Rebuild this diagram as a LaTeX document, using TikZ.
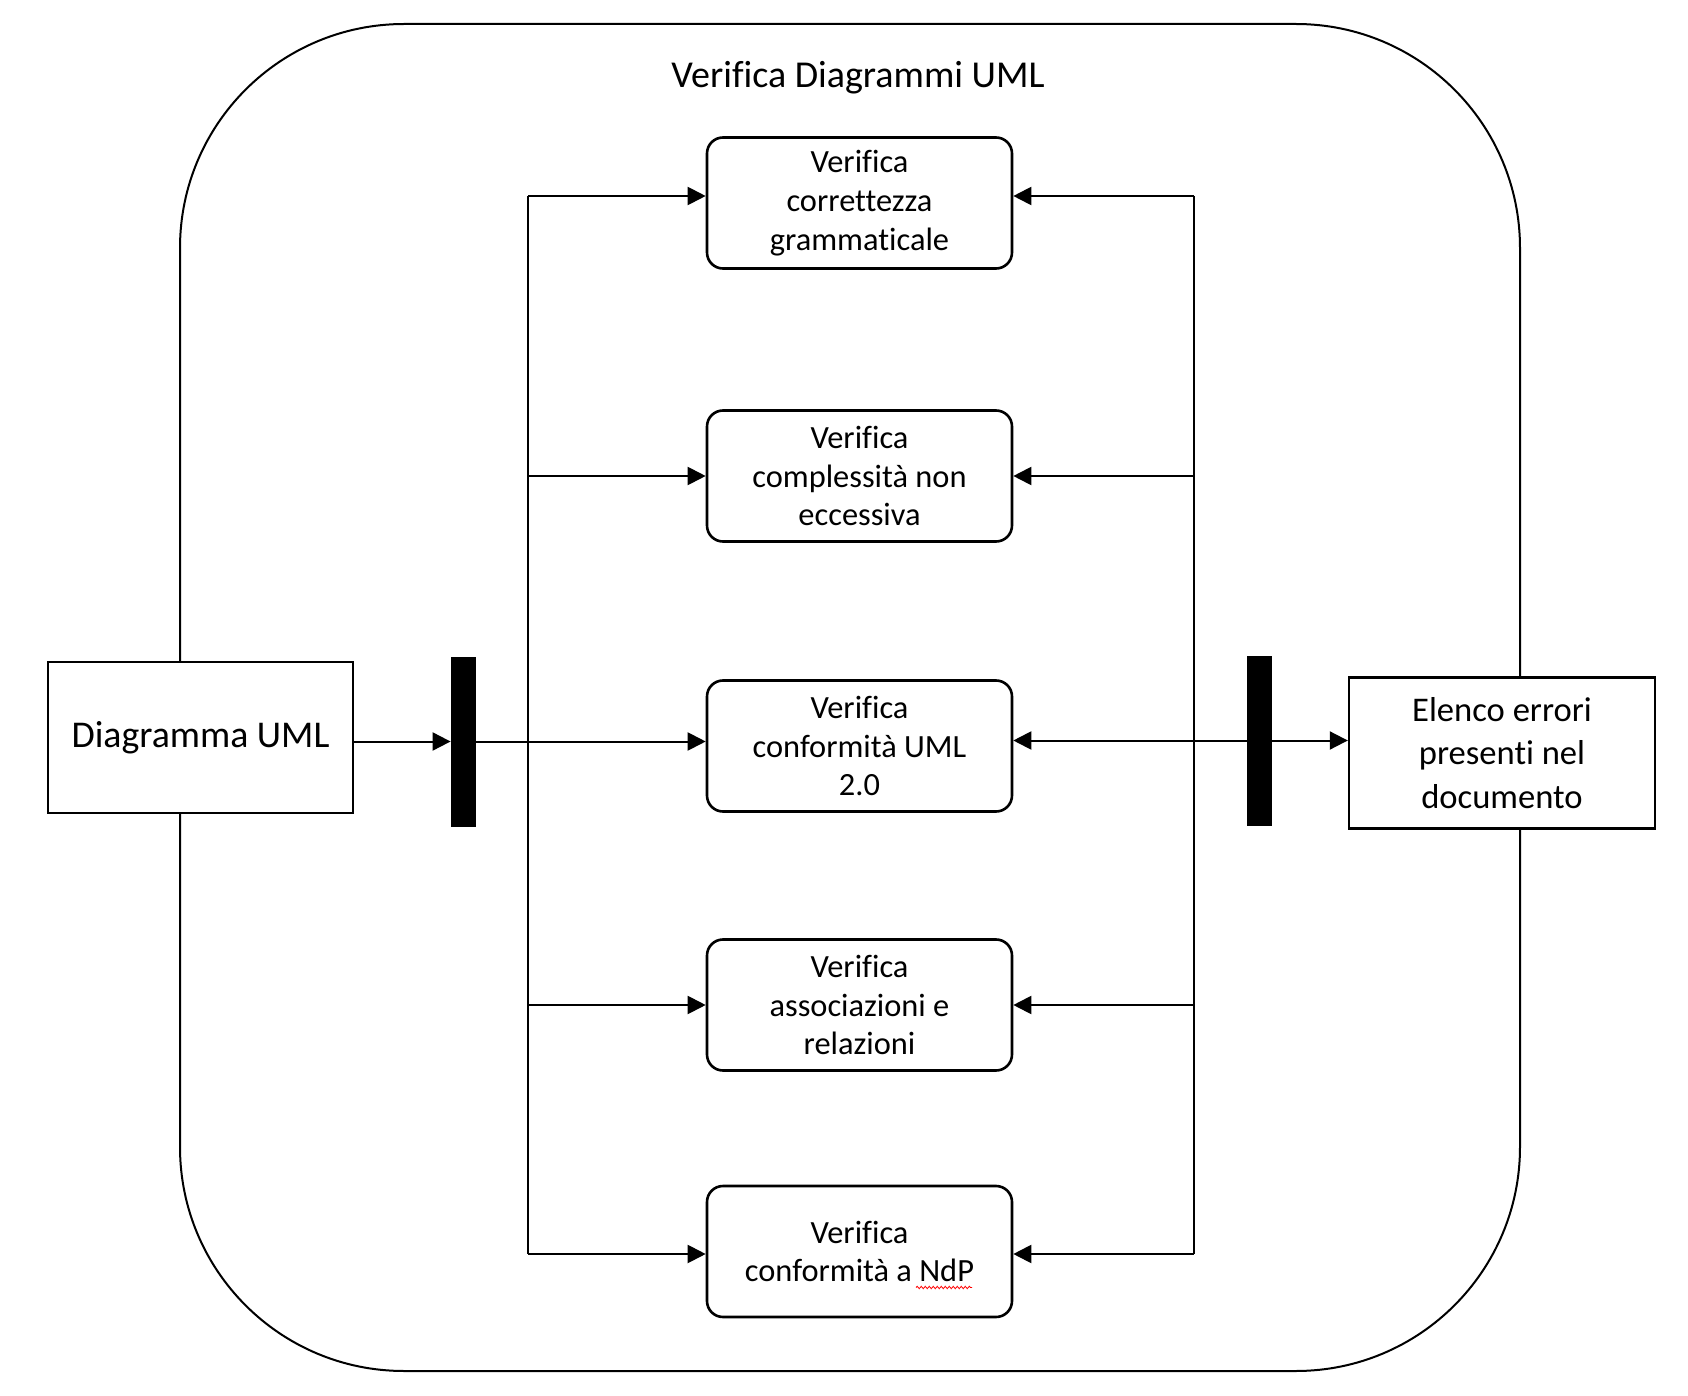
\documentclass[tikz,border=0pt]{standalone}
\usepackage{fontspec}
\setmainfont{Carlito}[Ligatures=NoCommon]
\usetikzlibrary{arrows.meta}
\usetikzlibrary{decorations.pathmorphing}
\tikzstyle{checkbox} = [draw=black, fill=white, line width=1.3pt,
    rectangle, rounded corners=8pt, minimum width=152.5pt, minimum height=65.5pt,
    inner sep=0pt, align=center, font=\fontsize{16.2}{19.4}\selectfont]
\tikzstyle{databox} = [draw=black, fill=white, line width=1.2pt,
    rectangle, minimum width=152.5pt, minimum height=75.5pt, inner sep=0pt, align=center]
\tikzstyle{forkbar} = [fill=black, rectangle, minimum width=12.5pt, minimum height=85pt, inner sep=0pt]
\tikzstyle{flow} = [line width=1pt, -{Triangle[length=9pt,width=9pt]}]
\tikzstyle{trunk} = [line width=1pt]
\tikzstyle{spellmark} = [red, line width=0.4pt, decorate,
    decoration={snake, amplitude=0.6pt, segment length=2pt}]

\begin{document}
\begin{tikzpicture}[x=0.5pt, y=-0.5pt]
    \useasboundingbox (0,0) rectangle (1688,1396);
    \node [draw=black, line width=1pt, rectangle, rounded corners=112pt,
        minimum width=670pt, minimum height=673.5pt] (frame) at (850,697.5) {};
    \node [font=\fontsize{19}{23}\selectfont] (title) at (858,78) {Verifica Diagrammi UML};
    % verifiche
    \node [checkbox] (gram) at (859.5,203) {Verifica\\correttezza\\grammaticale};
    \node [checkbox] (compl) at (859.5,476) {Verifica\\complessità non\\eccessiva};
    \node [checkbox] (uml) at (859.5,746) {Verifica\\conformità UML\\2.0};
    \node [checkbox] (assoc) at (859.5,1005) {Verifica\\associazioni e\\relazioni};
    \node [checkbox] (ndp) at (859.5,1251.5) {Verifica\\conformità a NdP};
    \draw [spellmark] ([shift={(56.5,36)}]ndp.center) -- ([shift={(112.5,36)}]ndp.center);
    % ingresso e uscita
    \node [databox, font=\fontsize{18.9}{22}\selectfont] (diag) at (200.5,737.5) {Diagramma UML};
    \node [databox, minimum width=153pt, font=\fontsize{17.3}{21.6}\selectfont]
        (errori) at (1502,753) {Elenco errori\\presenti nel\\documento};
    \node [forkbar] (lfork) at (463.5,741.5) {};
    \node [forkbar] (rfork) at (1259.5,740.5) {};
    \coordinate (ltop) at (528,196);
    \coordinate (lbot) at (528,1254);
    \coordinate (rtop) at (1194,196);
    \coordinate (rbot) at (1194,1254);
    % fork
    \draw [flow] (diag.east |- lfork) -- (lfork.west);
    \draw [flow] (lfork.east) -- (uml.west |- lfork);
    \draw [trunk] (ltop) -- (lbot);
    \draw [flow] (ltop) -- (gram.west |- ltop);
    \draw [flow] (ltop |- compl) -- (compl.west);
    \draw [flow] (ltop |- assoc) -- (assoc.west);
    \draw [flow] (lbot) -- (ndp.west |- lbot);
    % join
    \draw [trunk] (rtop) -- (rbot);
    \draw [flow] (rtop) -- (gram.east |- rtop);
    \draw [flow] (rtop |- compl) -- (compl.east);
    \draw [flow] (rtop |- assoc) -- (assoc.east);
    \draw [flow] (rbot) -- (ndp.east |- rbot);
    \draw [flow] (rfork.west) -- (uml.east |- rfork);
    \draw [flow] (rfork.east) -- (errori.west |- rfork);
\end{tikzpicture}
\end{document}
